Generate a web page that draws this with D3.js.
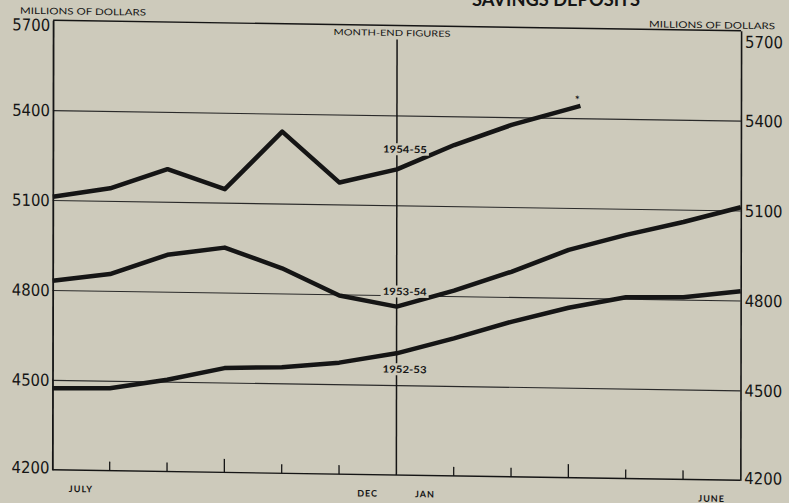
<!DOCTYPE html>
<html><head><meta charset="utf-8">
<script src="https://cdn.jsdelivr.net/npm/d3@7/dist/d3.min.js"></script>
<style>
html,body{margin:0;padding:0;background:#cdcabb;}
svg{display:block;}
</style></head><body>
<svg id="c" width="789" height="503"></svg>
<script>
// ---- data ----
const monthLabels = ["JULY","","","","","DEC","JAN","","","","","JUNE"];
const monthEnds = [0,1,2,3,4,5,6,7,8,9,10,11,12];
const valueTicks = [4200,4500,4800,5100,5400,5700];
const gridValues = [4500,4800,5100,5400];
const seriesNames = ["1952-53","1953-54","1954-55"];
const fy1952 = [4472,4475,4506,4548,4554,4572,4606,4659,4717,4767,4805,4808,4831];
const fy1953 = [4831,4856,4923,4950,4884,4796,4762,4818,4884,4960,5013,5059,5111];
const fy1954 = [5111,5142,5209,5145,5340,5173,5220,5304,5374,5441];
const fy1954X = [0,1,2,3,4,5,6,7,8,9.2];
const titleText = "SAVINGS DEPOSITS";
const unitText = "MILLIONS OF DOLLARS";
const noteText = "MONTH-END FIGURES";

// ---- layout ----
const W = 688, H = 449.5;
const ink = "#151515";
const svg = d3.select("#c");
svg.append("rect").attr("width",789).attr("height",503).attr("fill","#cdcabb");

// partial title (cut off at top, as in the reference)
svg.append("text").attr("x",472).attr("y",6).attr("textLength",168).attr("lengthAdjust","spacingAndGlyphs")
  .attr("font-family","Lato, 'DejaVu Sans', sans-serif").attr("font-weight","bold").attr("font-size",19)
  .attr("fill",ink).text(titleText);

// slightly skewed scan frame
const g = svg.append("g").attr("transform","matrix(1,0.01526,-0.00167,1,53.1,20.25)");

const x = d3.scaleLinear().domain([0,12]).range([0,W]);
const y = d3.scaleLinear().domain([4200,5700]).range([H,0]);

// gridlines
g.append("g").call(d3.axisLeft(y).tickValues(gridValues).tickSize(-W).tickFormat(""))
  .call(s=>s.select(".domain").remove())
  .call(s=>s.selectAll(".tick line").attr("stroke","#2a2a2a").attr("stroke-width",1.1));

// frame top/bottom
g.append("line").attr("x1",0).attr("x2",W).attr("y1",y(5700)).attr("y2",y(5700)).attr("stroke",ink).attr("stroke-width",1.4);
g.append("line").attr("x1",0).attr("x2",W).attr("y1",y(4200)).attr("y2",y(4200)).attr("stroke",ink).attr("stroke-width",1.4);

// left axis
const numFont = "'Liberation Sans Narrow','DejaVu Sans Condensed',sans-serif";
const la = g.append("g").call(d3.axisLeft(y).tickValues(valueTicks).tickSize(0).tickPadding(3).tickFormat(d3.format("d")));
la.select(".domain").attr("stroke",ink).attr("stroke-width",1.8);
la.selectAll("text").attr("font-family",numFont).attr("font-size",16.5).attr("fill",ink)
  .attr("dy",d=> d===5700 ? "0.62em" : d===4200 ? "0.2em" : "0.34em");

// right axis
const ra = g.append("g").attr("transform",`translate(${W},0)`)
  .call(d3.axisRight(y).tickValues(valueTicks).tickSize(0).tickPadding(4).tickFormat(d3.format("d")));
ra.select(".domain").attr("stroke",ink).attr("stroke-width",1.6);
ra.selectAll("text").attr("font-family",numFont).attr("font-size",16.5).attr("fill",ink)
  .attr("dy",d=> d===5700 ? "1.0em" : d===4200 ? "0.2em" : "0.34em");

// bottom month ticks
const tickIdx = monthEnds.filter(i=>i>0 && i<12 && i!==6);
g.selectAll("line.mt").data(tickIdx).join("line").attr("class","mt")
  .attr("x1",d=>x(d)).attr("x2",d=>x(d)).attr("y1",H).attr("y2",d=> (d%3===0) ? H-13.5 : H-9)
  .attr("stroke",ink).attr("stroke-width",1.3);

// Dec/Jan divider
g.append("line").attr("x1",x(6)).attr("x2",x(6)).attr("y1",14).attr("y2",H).attr("stroke",ink).attr("stroke-width",1.5);

// month labels
const smallFont = "Lato,'DejaVu Sans',sans-serif";
g.selectAll("text.ml").data(monthLabels.map((m,i)=>({m,i})).filter(d=>d.m)).join("text").attr("class","ml")
  .attr("x",d=>x(d.i+0.5)).attr("y",H+22).attr("text-anchor","middle")
  .attr("font-family",smallFont).attr("font-weight","bold").attr("font-size",9).attr("letter-spacing",1)
  .attr("fill",ink).text(d=>d.m);

// unit labels
g.append("text").attr("x",-33).attr("y",-6).attr("textLength",126).attr("lengthAdjust","spacingAndGlyphs")
  .attr("font-family",smallFont).attr("font-size",9).attr("fill",ink).text(unitText);
g.append("text").attr("x",W-92).attr("y",-2).attr("textLength",126).attr("lengthAdjust","spacingAndGlyphs")
  .attr("font-family",smallFont).attr("font-size",9).attr("fill",ink).text(unitText);

// note
g.append("text").attr("x",x(6)-5).attr("y",10.5).attr("text-anchor","middle").attr("textLength",117).attr("lengthAdjust","spacingAndGlyphs")
  .attr("font-family",smallFont).attr("font-size",8.5).attr("fill",ink).text(noteText);

// series lines
const series = [
  {name:seriesNames[0], xs:monthEnds, vs:fy1952, dy:16},
  {name:seriesNames[1], xs:monthEnds, vs:fy1953, dy:-15},
  {name:seriesNames[2], xs:fy1954X, vs:fy1954, dy:-20}
];
const line = d3.line().x(d=>x(d[0])).y(d=>y(d[1]));
g.selectAll("path.s").data(series).join("path").attr("class","s")
  .attr("d",s=>line(s.vs.map((v,i)=>[s.xs[i],v])))
  .attr("fill","none").attr("stroke",ink).attr("stroke-width",4.5).attr("stroke-linejoin","round");

// series labels with background knockout
series.forEach(s=>{
  const cx = x(6)+8, cy = y(s.vs[6]) + s.dy;
  g.append("rect").attr("x",cx-24).attr("y",cy-6).attr("width",48).attr("height",12).attr("fill","#cdcabb");
  g.append("text").attr("x",cx-22).attr("y",cy+3.5).attr("textLength",44).attr("lengthAdjust","spacingAndGlyphs")
    .attr("font-family",smallFont).attr("font-weight","bold").attr("font-size",10).attr("fill",ink).text(s.name);
});

// asterisk at end of 1954-55
const lastI = fy1954.length-1;
g.append("text").attr("x",x(fy1954X[lastI])-3).attr("y",y(fy1954[lastI])-2).attr("text-anchor","middle")
  .attr("font-family",smallFont).attr("font-weight","bold").attr("font-size",11).attr("fill",ink).text("*");
</script>
</body></html>
